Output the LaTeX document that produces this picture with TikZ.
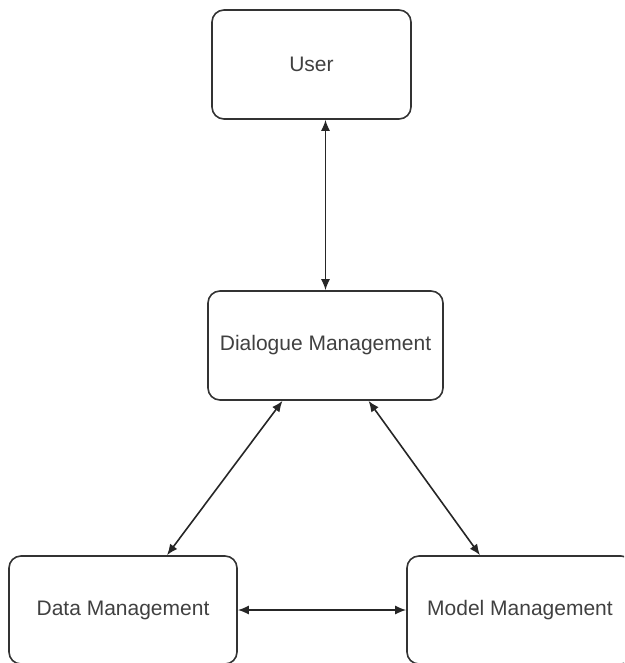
\documentclass[tikz,border=0pt]{standalone}
\usepackage{fontspec}
\setmainfont{Liberation Sans}
\usepackage{xcolor}
\usetikzlibrary{arrows.meta}

\begin{document}
\begin{tikzpicture}[<->,>={Latex[length=11pt,width=9pt]},x=1pt,y=-1pt,line width=1.6pt,draw=black!85]
                \tikzset{block/.style={draw=black!80, rectangle, rounded corners=12pt, inner sep=0pt,
                    minimum height=109pt, text=black!75, font=\fontsize{21}{25}\selectfont}}
                \clip (0,0) rectangle (624,663);
                \node[block, minimum width=199pt] (user) at (311.5,64.5) {User};
                \node[block, minimum width=235pt] (dlg) at (325.5,345.5) {Dialogue Management};
                \node[block, minimum width=228pt, minimum height=108pt] (data) at (123,610) {Data Management};
                \node[block, minimum width=226pt, minimum height=108pt] (model) at (520,610) {Model Management};
                \draw (dlg.north |- user.south) -- (dlg.north);
                \draw ([xshift=-43pt]dlg.south) -- ([xshift=44pt]data.north);
                \draw ([xshift=43pt]dlg.south) -- ([xshift=-40pt]model.north);
                \draw (data.east) -- (model.west);
            \end{tikzpicture}
\end{document}
